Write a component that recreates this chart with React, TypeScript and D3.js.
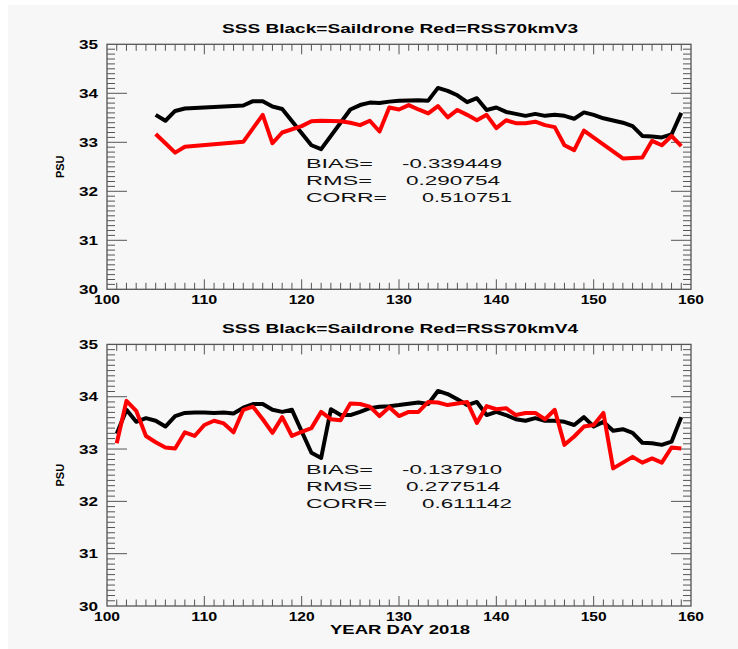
import React from 'react';
import * as d3 from 'd3';

// Year-day / salinity values
const v3SaildroneDays = [105, 106, 107, 108, 114, 115, 116, 117, 118, 121, 122, 125, 126, 127, 128, 129, 130, 132, 133, 134, 135, 136, 137, 138, 139, 140, 141, 142, 143, 144, 145, 146, 147, 148, 149, 150, 151, 153, 154, 155, 156, 157, 158, 159];
const v3SaildroneSss = [33.56, 33.44, 33.64, 33.69, 33.75, 33.84, 33.84, 33.73, 33.68, 32.94, 32.86, 33.67, 33.76, 33.81, 33.80, 33.83, 33.85, 33.86, 33.85, 34.11, 34.05, 33.96, 33.82, 33.90, 33.66, 33.71, 33.62, 33.58, 33.54, 33.58, 33.54, 33.56, 33.54, 33.48, 33.61, 33.56, 33.49, 33.40, 33.33, 33.13, 33.12, 33.10, 33.16, 33.60];
const v3RssDays = [105, 106, 107, 108, 114, 116, 117, 118, 120, 121, 122, 124, 125, 126, 127, 128, 129, 130, 131, 132, 133, 134, 135, 136, 137, 138, 139, 140, 141, 142, 143, 144, 145, 146, 147, 148, 149, 153, 155, 156, 157, 158, 159];
const v3RssSss = [33.17, 32.98, 32.79, 32.91, 33.01, 33.56, 32.98, 33.20, 33.33, 33.43, 33.44, 33.43, 33.40, 33.35, 33.44, 33.22, 33.71, 33.67, 33.76, 33.67, 33.59, 33.74, 33.51, 33.66, 33.56, 33.45, 33.56, 33.29, 33.45, 33.39, 33.39, 33.42, 33.35, 33.31, 32.94, 32.84, 33.24, 32.67, 32.69, 33.03, 32.94, 33.13, 32.92];

const v4SaildroneDays = [101, 102, 103, 104, 105, 106, 107, 108, 109, 110, 111, 112, 113, 114, 115, 116, 117, 118, 119, 121, 122, 123, 124, 125, 126, 127, 128, 129, 130, 132, 133, 134, 135, 136, 137, 138, 139, 140, 141, 142, 143, 144, 145, 146, 147, 148, 149, 150, 151, 152, 153, 154, 155, 156, 157, 158, 159];
const v4SaildroneSss = [33.29, 33.75, 33.52, 33.59, 33.54, 33.43, 33.63, 33.69, 33.70, 33.70, 33.69, 33.70, 33.68, 33.79, 33.86, 33.86, 33.75, 33.71, 33.75, 32.93, 32.83, 33.76, 33.65, 33.65, 33.71, 33.78, 33.81, 33.82, 33.84, 33.89, 33.86, 34.11, 34.05, 33.95, 33.84, 33.90, 33.65, 33.71, 33.65, 33.57, 33.54, 33.59, 33.54, 33.54, 33.52, 33.46, 33.61, 33.43, 33.52, 33.35, 33.38, 33.31, 33.12, 33.11, 33.08, 33.14, 33.61];
const v4RssDays = [101, 102, 103, 104, 105, 106, 107, 108, 109, 110, 111, 112, 113, 114, 115, 116, 117, 118, 119, 120, 121, 122, 123, 124, 125, 126, 127, 128, 129, 130, 131, 132, 133, 134, 135, 136, 137, 138, 139, 140, 141, 142, 143, 144, 145, 146, 147, 148, 149, 150, 151, 152, 153, 154, 155, 156, 157, 158, 159];
const v4RssSss = [33.11, 33.92, 33.73, 33.25, 33.13, 33.03, 33.01, 33.32, 33.25, 33.46, 33.54, 33.49, 33.32, 33.75, 33.81, 33.57, 33.31, 33.61, 33.25, 33.33, 33.40, 33.71, 33.57, 33.55, 33.87, 33.86, 33.81, 33.63, 33.80, 33.63, 33.71, 33.71, 33.90, 33.89, 33.84, 33.87, 33.90, 33.50, 33.82, 33.76, 33.78, 33.65, 33.69, 33.69, 33.57, 33.75, 33.08, 33.24, 33.43, 33.46, 33.69, 32.63, 32.74, 32.85, 32.74, 32.82, 32.74, 33.03, 33.01];

const xTicks = [100, 110, 120, 130, 140, 150, 160];
const yTicks = [30, 31, 32, 33, 34, 35];
const statLabels = ['BIAS=', 'RMS=', 'CORR='];
const v3Stats = ['-0.339449', '0.290754', '0.510751'];
const v4Stats = ['-0.137910', '0.277514', '0.611142'];

const FONT = '"Liberation Sans", Arial, Helvetica, sans-serif';
const AXIS = '#555';

type PanelProps = {
  title: string;
  top: number;
  bottom: number;
  blackDays: number[];
  blackSss: number[];
  redDays: number[];
  redSss: number[];
  stats: string[];
  statsY: number;
};

const Panel = ({ title, top, bottom, blackDays, blackSss, redDays, redSss, stats, statsY }: PanelProps) => {
  const left = 107;
  const right = 691;
  const x = d3.scaleLinear().domain([100, 160]).range([left, right]);
  const y = d3.scaleLinear().domain([30, 35]).range([bottom, top]);

  const line = d3.line<[number, number]>()
    .x(d => x(d[0]))
    .y(d => y(d[1]));

  const blackPts = blackDays.map((d, i) => [d, blackSss[i]] as [number, number]);
  const redPts = redDays.map((d, i) => [d, redSss[i]] as [number, number]);

  const xMinor = d3.range(101, 160);
  const yMinor = d3.range(301, 350).map(v => v / 10);

  const statX = [402, 406, 422];
  const statW = [100, 94, 90];
  const labelW = [67, 66, 81];

  return (
    <g>
      <text x={400} y={top - 11} textAnchor="middle" fontFamily={FONT} fontWeight="bold" fontSize={12.5}
        textLength={356} lengthAdjust="spacingAndGlyphs">{title}</text>

      {/* x ticks, top and bottom, pointing in */}
      {xMinor.map(d => {
        const len = d % 10 === 0 ? 10 : 6.5;
        return (
          <g key={'x' + d} stroke={AXIS} strokeWidth={1}>
            <line x1={x(d)} x2={x(d)} y1={bottom} y2={bottom - len} />
            <line x1={x(d)} x2={x(d)} y1={top} y2={top + len} />
          </g>
        );
      })}
      {/* y ticks, left and right */}
      {yMinor.map(v => {
        const major = Math.abs(v - Math.round(v)) < 1e-6;
        const len = major ? 20 : 8;
        return (
          <g key={'y' + v} stroke={AXIS} strokeWidth={1}>
            <line x1={left} x2={left + len} y1={y(v)} y2={y(v)} />
            <line x1={right} x2={right - len} y1={y(v)} y2={y(v)} />
          </g>
        );
      })}
      <rect x={left} y={top} width={right - left} height={bottom - top} fill="none" stroke={AXIS} strokeWidth={1.3} />

      {xTicks.map(d => (
        <text key={'xl' + d} x={x(d)} y={bottom + 15} textAnchor="middle" fontFamily={FONT} fontWeight="bold"
          fontSize={12.5} textLength={d >= 100 ? 26 : 17} lengthAdjust="spacingAndGlyphs">{d}</text>
      ))}
      {yTicks.map(v => (
        <text key={'yl' + v} x={98} y={y(v) + 4.5} textAnchor="end" fontFamily={FONT} fontWeight="bold"
          fontSize={12.5} textLength={19} lengthAdjust="spacingAndGlyphs">{v}</text>
      ))}

      <text transform={`translate(64,${(top + bottom) / 2}) rotate(-90)`} textAnchor="middle" fontFamily={FONT}
        fontWeight="bold" fontSize={11}>PSU</text>

      <path d={line(blackPts) || ''} fill="none" stroke="#000" strokeWidth={4} strokeLinejoin="round" />
      <path d={line(redPts) || ''} fill="none" stroke="#ff0000" strokeWidth={4} strokeLinejoin="round" />

      {statLabels.map((s, i) => (
        <g key={s}>
          <text x={306} y={statsY + i * 17} fontFamily={FONT} fontSize={12} textLength={labelW[i]}
            lengthAdjust="spacingAndGlyphs" fill="#111">{s}</text>
          <text x={statX[i]} y={statsY + i * 17} fontFamily={FONT} fontSize={12} textLength={statW[i]}
            lengthAdjust="spacingAndGlyphs" fill="#111">{stats[i]}</text>
        </g>
      ))}
    </g>
  );
};

const App = () => {
  return (
    <svg width={738} height={649} style={{ position: 'absolute', left: 0, top: 0 }}>
      <rect x={0} y={0} width={738} height={649} fill="#fff" />
      <rect x={8} y={5} width={730} height={644} fill="#f7f7f7" />
      <Panel title="SSS Black=Saildrone Red=RSS70kmV3" top={44.3} bottom={289.3}
        blackDays={v3SaildroneDays} blackSss={v3SaildroneSss} redDays={v3RssDays} redSss={v3RssSss}
        stats={v3Stats} statsY={168} />
      <Panel title="SSS Black=Saildrone Red=RSS70kmV4" top={344.4} bottom={606}
        blackDays={v4SaildroneDays} blackSss={v4SaildroneSss} redDays={v4RssDays} redSss={v4RssSss}
        stats={v4Stats} statsY={474} />
      <text x={400} y={634} textAnchor="middle" fontFamily={FONT} fontWeight="bold" fontSize={12}
        textLength={140} lengthAdjust="spacingAndGlyphs">YEAR DAY 2018</text>
    </svg>
  );
};

export default App;
